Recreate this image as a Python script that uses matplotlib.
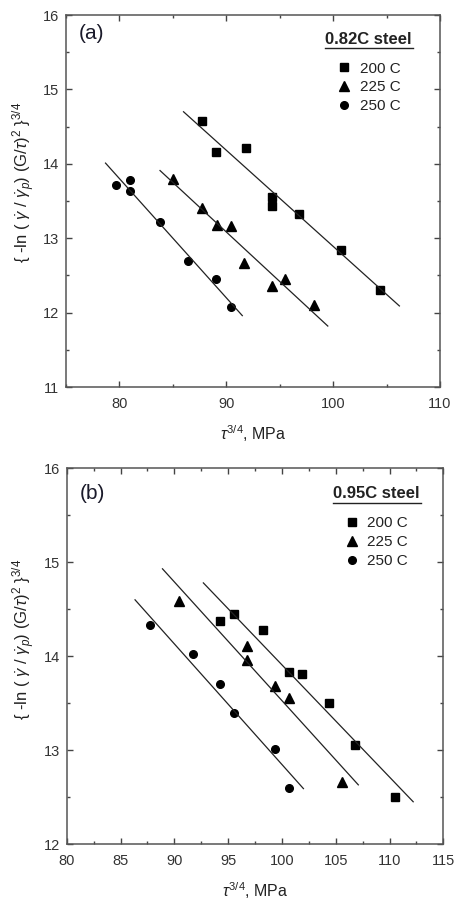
import numpy as np
import matplotlib
matplotlib.use('Agg')
import matplotlib.pyplot as plt
from matplotlib.ticker import MultipleLocator

plt.rcParams['font.family'] = ['Liberation Sans', 'DejaVu Sans']
plt.rcParams['mathtext.fontset'] = 'custom'
plt.rcParams['mathtext.rm'] = 'Liberation Sans'
plt.rcParams['mathtext.it'] = 'Liberation Sans:italic'
plt.rcParams['mathtext.bf'] = 'Liberation Sans:bold'

# ---- panel (a): 0.82C steel ----
a_x200 = [87.7, 89.0, 91.8, 94.3, 94.3, 96.8, 100.7, 104.4]
a_y200 = [14.57, 14.16, 14.21, 13.56, 13.44, 13.33, 12.84, 12.30]
a_x225 = [85.0, 87.7, 89.1, 90.4, 91.7, 94.3, 95.5, 98.2]
a_y225 = [13.80, 13.41, 13.18, 13.16, 12.67, 12.36, 12.45, 12.10]
a_x250 = [79.7, 81.0, 81.0, 83.8, 86.4, 89.0, 90.4]
a_y250 = [13.72, 13.78, 13.64, 13.22, 12.69, 12.45, 12.07]
# fitted lines (end points)
a_fit200 = ([86.0, 106.2], [14.70, 12.09])
a_fit225 = ([83.8, 99.5], [13.91, 11.82])
a_fit250 = ([78.7, 91.5], [14.01, 11.96])

# ---- panel (b): 0.95C steel ----
b_x200 = [94.25, 95.55, 98.2, 100.65, 101.9, 104.4, 106.8, 110.5]
b_y200 = [14.37, 14.45, 14.28, 13.83, 13.81, 13.50, 13.05, 12.50]
b_x225 = [90.4, 96.8, 96.8, 99.35, 100.7, 105.6]
b_y225 = [14.59, 14.11, 13.96, 13.68, 13.55, 12.66]
b_x250 = [87.7, 91.7, 94.25, 95.55, 99.35, 100.7]
b_y250 = [14.33, 14.02, 13.70, 13.40, 13.01, 12.60]
b_fit200 = ([92.7, 112.2], [14.78, 12.45])
b_fit225 = ([88.9, 107.1], [14.93, 12.63])
b_fit250 = ([86.35, 102.0], [14.60, 12.59])

labels = ['200 C', '225 C', '250 C']
markers = ['s', '^', 'o']

ylab = r'{ -ln ( $\dot{\gamma}$ / $\dot{\gamma}_p$) (G/$\tau$)$^2$ }$^{3/4}$'
xlab = r'$\tau^{3/4}$, MPa'

fig = plt.figure(figsize=(4.56, 9.06), dpi=100)
ax1 = fig.add_axes([0.1447, 0.5728, 0.8202, 0.4106])
ax2 = fig.add_axes([0.1463, 0.0684, 0.8259, 0.4147])


def draw(ax, xs, ys, fits, xlim, ylim, xmaj, tag, title, tpos, lpos, ulpos, ylc):
    hs = []
    for x, y, m, lab in zip(xs, ys, markers, labels):
        ms = 6.5 if m == '^' else 5.5
        h, = ax.plot(x, y, linestyle='none', marker=m, color='black', ms=ms, label=lab)
        hs.append(h)
    for fx, fy in fits:
        ax.plot(fx, fy, color='#222222', lw=0.9)
    ax.set_xlim(*xlim)
    ax.set_ylim(*ylim)
    ax.xaxis.set_major_locator(MultipleLocator(xmaj))
    ax.xaxis.set_minor_locator(MultipleLocator(xmaj / 2))
    ax.yaxis.set_major_locator(MultipleLocator(1))
    ax.yaxis.set_minor_locator(MultipleLocator(0.5))
    ax.tick_params(which='both', direction='in', top=True, right=True,
                   labelsize=10.5, labelcolor='#333333', color='#444444')
    ax.tick_params(which='major', length=4, width=1)
    ax.tick_params(which='minor', length=2.5, width=1)
    ax.tick_params(axis='x', pad=7)
    ax.tick_params(axis='y', pad=5)
    for s in ax.spines.values():
        s.set_linewidth(1.1)
        s.set_color('#555555')
    ax.set_xlabel(xlab, fontsize=11.5, color='#222222', labelpad=9)
    ax.set_ylabel(ylab, fontsize=12, color='#222222')
    ax.yaxis.set_label_coords(-0.078, ylc)
    ax.text(0.035, tpos, tag, transform=ax.transAxes, fontsize=15,
            va='top', ha='left', color='#1a1a2a')
    ax.text(ulpos[0], ulpos[2] + 0.004, title, transform=ax.transAxes,
            fontsize=12, fontweight='bold', ha='left', va='bottom', color='#222222')
    ax.plot([ulpos[0], ulpos[1]], [ulpos[2], ulpos[2]], transform=ax.transAxes,
            color='#222222', lw=1.0, clip_on=False)
    ax.legend(handles=hs, loc='upper left', bbox_to_anchor=lpos, frameon=False,
              fontsize=11, handlelength=0.8, handletextpad=0.6,
              labelspacing=0.32, borderaxespad=0, borderpad=0,
              labelcolor='#222222')


draw(ax1, [a_x200, a_x225, a_x250], [a_y200, a_y225, a_y250],
     [a_fit200, a_fit225, a_fit250], (75, 110), (11, 16), 10, '(a)',
     '0.82C steel', 0.975, (0.728, 0.875), (0.692, 0.928, 0.911), 0.55)
draw(ax2, [b_x200, b_x225, b_x250], [b_y200, b_y225, b_y250],
     [b_fit200, b_fit225, b_fit250], (80, 115), (12, 16), 5, '(b)',
     '0.95C steel', 0.958, (0.74, 0.872), (0.707, 0.941, 0.908), 0.545)

fig.savefig('out.png', dpi=100)
